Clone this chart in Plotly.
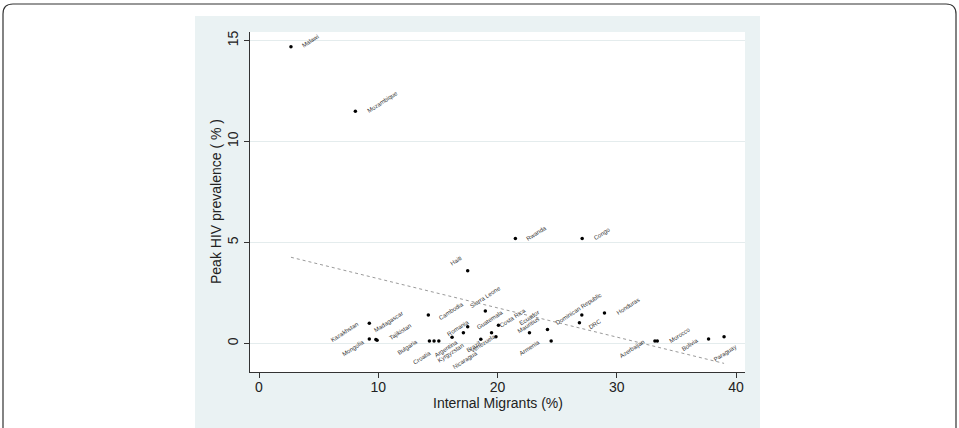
import numpy as np
import plotly.graph_objects as go

# ---------------- data ----------------
countries = ["Malawi", "Mozambique", "Rwanda", "Congo", "Haiti",
             "Kazakhstan", "Mongolia", "Madagascar", "Tajikistan", "Cambodia",
             "Bulgaria", "Croatia", "Argentina", "Kyrgyzstan", "Brazil",
             "Romania", "Sierra Leone", "Costa Rica", "Guatemala", "Venezuela",
             "Nicaragua", "Mauritius", "Ecuador", "Armenia", "Dominican Republic",
             "DRC", "Honduras", "Azerbaijan", "Morocco", "Bolivia", "Paraguay"]
migrants = [2.68, 8.08, 21.5, 27.1, 17.5,
            9.25, 9.25, 9.8, 9.9, 14.2,
            14.29, 14.68, 15.08, 16.19, 17.14,
            17.5, 18.98, 20.08, 19.5, 19.87,
            18.6, 22.68, 24.19, 24.5, 27.07,
            26.87, 28.97, 33.2, 33.4, 37.7, 39.0]
hiv = [14.69, 11.49, 5.19, 5.19, 3.59,
       1.0, 0.21, 0.19, 0.15, 1.4,
       0.11, 0.11, 0.11, 0.3, 0.52,
       0.82, 1.6, 0.9, 0.52, 0.33,
       0.2, 0.52, 0.69, 0.11, 1.4,
       1.02, 1.5, 0.11, 0.11, 0.21, 0.33]
x_ticks = [0, 10, 20, 30, 40]
y_ticks = [0, 5, 10, 15]
x_title = "Internal Migrants (%)"
y_title = "Peak HIV prevalence ( % )"

# ---------------- styling: label offsets (px) of each marker label ----------------
label_offset = [(19.5, -5.8), (27, -9.5), (21.4, -5.6), (19.4, -4.5), (-12, -10),
                (-24.6, 9.2), (-15.8, 9.3), (12.3, -17.8), (23, -8.3), (22.7, -4.5),
                (-21.8, 5.5), (-12.5, 16.5), (6.8, 7.5), (-1.5, 16), (9.7, 14.3),
                (-9.4, 1.6), (0, -14), (14.3, -6.7), (-2, -13), (-12, 6.8),
                (-15.7, 20.4), (-1, -8.3), (-18.5, -11.8), (-22, 6.5), (-3.4, -6),
                (15.7, 1), (24, -7.2), (-23, 8), (22.7, -6), (-19, 6), (1, 16)]

W, H = 959, 428
PL, PR, PT, PB = 250, 745, 32, 372  # plot area in px
FONT = "Liberation Sans, Arial, Helvetica, sans-serif"
PANEL = "#eaf2f3"
AX = "#333333"


def px2paper_x(px):
    return (px - PL) / (PR - PL)


def px2paper_y(py):
    return (PB - py) / (PB - PT)


fig = go.Figure()

# fitted (OLS) line
slope, intercept = np.polyfit(migrants, hiv, 1)
xf = np.array([min(migrants), max(migrants)])
fig.add_trace(go.Scatter(x=xf, y=intercept + slope * xf, mode="lines",
                         line=dict(color="#9a9a9a", width=1, dash="dot"),
                         hoverinfo="skip", showlegend=False))

# points
fig.add_trace(go.Scatter(x=migrants, y=hiv, mode="markers",
                         marker=dict(color="black", size=3.5),
                         showlegend=False))

# marker labels
for name, xv, yv, (dx, dy) in zip(countries, migrants, hiv, label_offset):
    fig.add_annotation(x=xv, y=yv, xref="x", yref="y", text=name, showarrow=False,
                       textangle=-33, xanchor="center", yanchor="middle",
                       xshift=dx, yshift=-dy,
                       font=dict(family=FONT, size=6, color="#333333"))

# axis titles
fig.add_annotation(x=0.5, y=px2paper_y(403), xref="paper", yref="paper",
                   text=x_title, showarrow=False, xanchor="center", yanchor="middle",
                   font=dict(family=FONT, size=14, color="#222222"))
fig.add_annotation(x=px2paper_x(216), y=0.5, xref="paper", yref="paper",
                   text=y_title, showarrow=False, xanchor="center", yanchor="middle",
                   textangle=-90, font=dict(family=FONT, size=14, color="#222222"))

# background panel, white plot region and outer rounded frame
x0, x1, y0, y1 = px2paper_x(195), px2paper_x(760), px2paper_y(16), px2paper_y(440)
fig.add_shape(type="rect", xref="paper", yref="paper", x0=x0, x1=x1, y0=y1, y1=y0,
              fillcolor=PANEL, line=dict(width=0), layer="below")
fig.add_shape(type="rect", xref="paper", yref="paper", x0=0, x1=1, y0=0, y1=1,
              fillcolor="white", line=dict(width=0), layer="below")

r = 10
fx0, fx1, fy0, fy1 = 3, 956, 4, 450
path = (f"M {px2paper_x(fx0)} {px2paper_y(fy1)} "
        f"L {px2paper_x(fx0)} {px2paper_y(fy0 + r)} "
        f"Q {px2paper_x(fx0)} {px2paper_y(fy0)} {px2paper_x(fx0 + r)} {px2paper_y(fy0)} "
        f"L {px2paper_x(fx1 - r)} {px2paper_y(fy0)} "
        f"Q {px2paper_x(fx1)} {px2paper_y(fy0)} {px2paper_x(fx1)} {px2paper_y(fy0 + r)} "
        f"L {px2paper_x(fx1)} {px2paper_y(fy1)}")
fig.add_shape(type="path", xref="paper", yref="paper", path=path,
              line=dict(color="#333333", width=1.2), layer="above")

fig.update_layout(
    width=W, height=H,
    margin=dict(l=PL, r=W - PR, t=PT, b=H - PB, pad=0),
    paper_bgcolor="white", plot_bgcolor="rgba(0,0,0,0)",
    font=dict(family=FONT, color="#222222"),
    showlegend=False,
)
fig.update_xaxes(range=[-0.755, 40.755], tickvals=x_ticks, ticktext=[str(v) for v in x_ticks],
                 showline=True, linecolor=AX, linewidth=1, ticks="outside", ticklen=5,
                 tickcolor=AX, tickwidth=1, showgrid=False, zeroline=False,
                 ticklabelstandoff=-3,
                 tickfont=dict(family=FONT, size=14, color="#222222"))
fig.update_yaxes(range=[-1.42, 15.42], tickvals=y_ticks, ticktext=[str(v) for v in y_ticks],
                 showline=True, linecolor=AX, linewidth=1, ticks="outside", ticklen=5,
                 tickcolor=AX, tickwidth=1, showgrid=True, gridcolor="#e4eced", gridwidth=1,
                 zeroline=False, tickangle=-90,
                 tickfont=dict(family=FONT, size=14, color="#222222"))

fig.write_html("out.html")
